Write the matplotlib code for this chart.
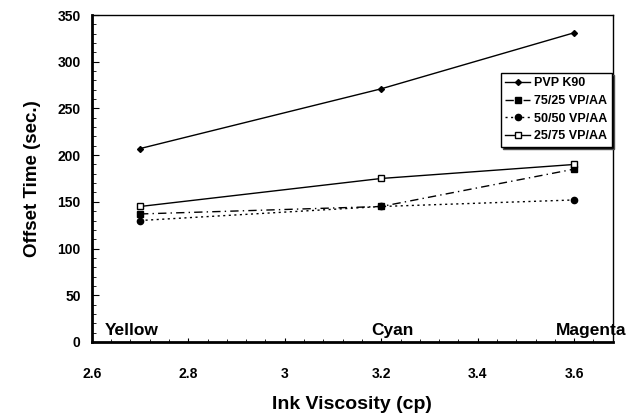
import numpy as np
import matplotlib.pyplot as plt
from matplotlib.ticker import MultipleLocator

plt.rcParams['font.family'] = ['Liberation Sans', 'DejaVu Sans']
plt.rcParams['font.weight'] = 'bold'

viscosity = [2.7, 3.2, 3.6]
inks = ['Yellow', 'Cyan', 'Magenta']
ink_label_x = [2.627, 3.223, 3.635]
pvp_k90 = [207, 271, 331]
vpaa_75_25 = [137, 145, 185]
vpaa_50_50 = [130, 145, 152]
vpaa_25_75 = [145, 175, 190]

fig = plt.figure(figsize=(6.33, 4.17), dpi=100)
ax = fig.add_axes([0.145, 0.18, 0.823, 0.784])

ax.plot(viscosity, pvp_k90, color='k', lw=1, ls='-', marker='D', ms=3, label='PVP K90')
ax.plot(viscosity, vpaa_75_25, color='k', lw=1, ls=(0, (6, 3, 1, 3)), marker='s', ms=4.5, label='75/25 VP/AA')
ax.plot(viscosity, vpaa_50_50, color='k', lw=1, ls=(0, (1.5, 2.5)), marker='o', ms=4.5, label='50/50 VP/AA')
ax.plot(viscosity, vpaa_25_75, color='k', lw=1, ls='-', marker='s', ms=4.5, mfc='white', label='25/75 VP/AA')

ax.set_xlim(2.6, 3.68)
ax.set_ylim(0, 350)
ax.xaxis.set_major_locator(MultipleLocator(0.2))
ax.xaxis.set_minor_locator(MultipleLocator(0.04))
ax.yaxis.set_major_locator(MultipleLocator(50))
ax.yaxis.set_minor_locator(MultipleLocator(10))
ax.set_xticks([2.6, 2.8, 3.0, 3.2, 3.4, 3.6])
ax.set_xticklabels(['2.6', '2.8', '3', '3.2', '3.4', '3.6'])
ax.tick_params(axis='both', which='both', direction='in', labelsize=10)
ax.tick_params(axis='x', which='major', length=3, pad=18)
ax.tick_params(axis='x', which='minor', length=2)
ax.tick_params(axis='y', which='major', length=5, pad=8)
ax.tick_params(axis='y', which='minor', length=3)
ax.tick_params(top=False, right=False)
for s in ['left', 'bottom']:
    ax.spines[s].set_linewidth(2)
for s in ['top', 'right']:
    ax.spines[s].set_linewidth(1)

ax.set_xlabel('Ink Viscosity (cp)', fontsize=14, fontweight='bold', labelpad=11)
ax.set_ylabel('Offset Time (sec.)', fontsize=13.5, fontweight='bold', labelpad=12)

ax.text(ink_label_x[0], 4, inks[0], fontsize=12.5, fontweight='bold', ha='left', va='bottom')
ax.text(ink_label_x[1], 4, inks[1], fontsize=12.5, fontweight='bold', ha='center', va='bottom')
ax.text(ink_label_x[2], 4, inks[2], fontsize=12.5, fontweight='bold', ha='center', va='bottom', clip_on=False)

leg = ax.legend(loc='upper right', bbox_to_anchor=(0.998, 0.823), fontsize=9, frameon=True,
                fancybox=False, shadow={'ox': 1.5, 'oy': -1.5, 'facecolor': 'black', 'alpha': 1},
                edgecolor='black', handlelength=2.0,
                borderpad=0.35, labelspacing=0.45, handletextpad=0.3, borderaxespad=0)
leg.get_frame().set_linewidth(1)
for t in leg.get_texts():
    t.set_fontweight('bold')

plt.savefig('out.png', dpi=100)
